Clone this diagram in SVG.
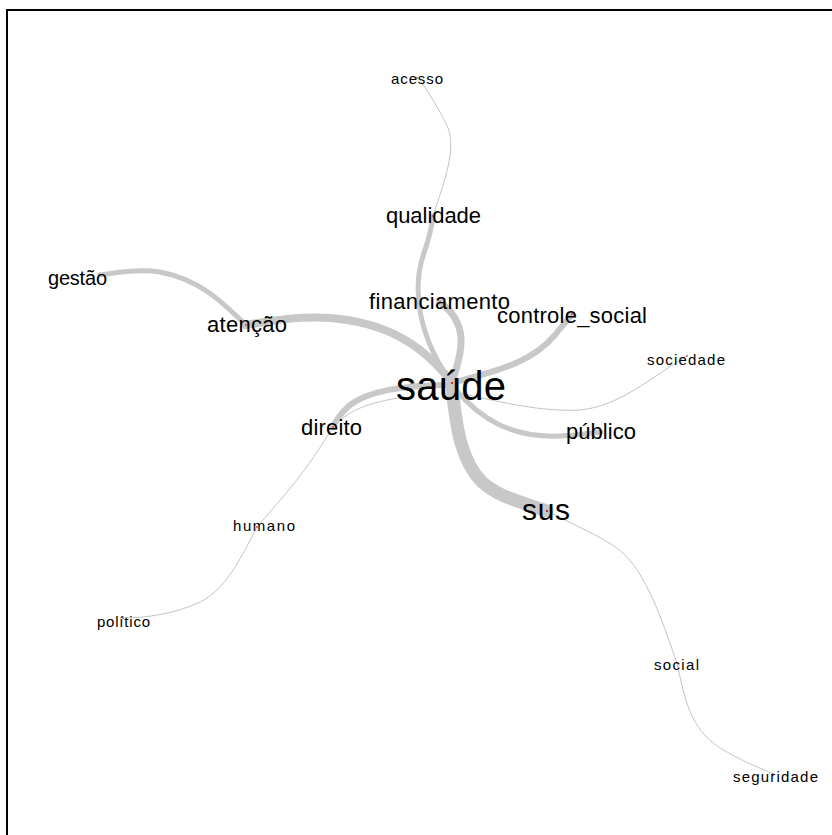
<svg xmlns="http://www.w3.org/2000/svg" width="832" height="835" viewBox="0 0 832 835">
<style>
.e{fill:none;stroke:#c8c8c8;stroke-linecap:round}
.t{stroke-width:1;stroke:#c4c4c4}
.lb{font-family:"Liberation Sans",Arial,sans-serif;fill:#000}
.sm{font-size:15px}
.md{font-size:22px}
.dot{fill:#d00000}
</style>
<rect x="0" y="0" width="832" height="835" fill="#fff"/>
<rect x="7" y="10" width="840" height="840" fill="none" stroke="#000" stroke-width="2"/>
<g id="edges">
<path class="e" stroke-width="13" d="M452,385 C456,430 462,462 482,482 C500,498 522,502 547,511"/>
<path class="e" stroke-width="8" d="M452,383 C420,340 380,322 330,318 C300,316 275,320 246,325"/>
<path class="e" stroke-width="5" d="M246,325 C220,300 200,280 160,272 C140,269 120,272 100,275"/>
<path class="e" stroke-width="7" d="M452,383 C462,350 470,325 440,302"/>
<path class="e" stroke-width="5" d="M452,383 C420,340 410,290 425,250 C430,235 432,225 433,216"/>
<path class="e t" d="M433,216 C445,180 456,150 448,128 C440,110 430,95 420,80"/>
<path class="e" stroke-width="6" d="M452,383 C490,372 530,365 555,335 C562,326 568,320 572,314"/>
<path class="e t" d="M456,392 C500,402 540,412 580,410 C620,406 650,378 687,356"/>
<path class="e" stroke-width="5" d="M456,390 C480,418 510,438 560,436 C580,435 590,433 601,432"/>
<path class="e" stroke-width="6" d="M450,385 C410,385 370,390 350,405 C340,414 336,420 333,427"/>
<path class="e t" d="M405,397 C370,402 345,410 330,432 C300,480 280,500 257,527"/>
<path class="e t" d="M257,527 C240,560 225,590 200,602 C175,614 145,618 123,618"/>
<path class="e t" d="M547,511 C580,528 610,540 625,555 C650,580 665,630 677,663"/>
<path class="e t" d="M677,663 C685,700 690,728 720,748 C740,760 755,766 773,774"/>
</g>
<g id="n-acesso"><circle class="dot" cx="417" cy="78" r="0.8"/><text class="lb sm" x="391" y="84" textLength="52" lengthAdjust="spacing">acesso</text></g>
<g id="n-qualidade"><circle class="dot" cx="433" cy="216" r="0.8"/><text class="lb md" x="386" y="223" textLength="95" lengthAdjust="spacing">qualidade</text></g>
<g id="n-gestao"><circle class="dot" cx="77" cy="280" r="0.8"/><text class="lb" style="font-size:20px" x="48" y="285" textLength="59" lengthAdjust="spacing">gestão</text></g>
<g id="n-atencao"><circle class="dot" cx="246" cy="325" r="0.8"/><text class="lb md" x="207" y="332" textLength="80" lengthAdjust="spacing">atenção</text></g>
<g id="n-financiamento"><circle class="dot" cx="440" cy="302" r="0.8"/><text class="lb md" x="369" y="309" textLength="141" lengthAdjust="spacing">financiamento</text></g>
<g id="n-controle_social"><circle class="dot" cx="572" cy="314" r="0.8"/><text class="lb md" x="497" y="323" textLength="150" lengthAdjust="spacing">controle_social</text></g>
<g id="n-sociedade"><circle class="dot" cx="687" cy="356" r="0.8"/><text class="lb sm" x="647" y="365" textLength="78" lengthAdjust="spacing">sociedade</text></g>
<g id="n-saude"><circle class="dot" cx="452" cy="383" r="1"/><text class="lb" style="font-size:40px" x="396" y="400" textLength="110" lengthAdjust="spacing">saúde</text></g>
<g id="n-direito"><circle class="dot" cx="333" cy="427" r="0.8"/><text class="lb md" x="301" y="435" textLength="61" lengthAdjust="spacing">direito</text></g>
<g id="n-publico"><circle class="dot" cx="601" cy="432" r="0.8"/><text class="lb md" x="566" y="439" textLength="70" lengthAdjust="spacing">público</text></g>
<g id="n-sus"><circle class="dot" cx="547" cy="511" r="1"/><text class="lb" style="font-size:30px" x="522" y="520" textLength="48" lengthAdjust="spacing">sus</text></g>
<g id="n-humano"><circle class="dot" cx="257" cy="527" r="0.8"/><text class="lb sm" x="233" y="531" textLength="62" lengthAdjust="spacing">humano</text></g>
<g id="n-politico"><circle class="dot" cx="123" cy="618" r="0.8"/><text class="lb sm" x="97" y="627" textLength="53" lengthAdjust="spacing">político</text></g>
<g id="n-social"><circle class="dot" cx="677" cy="663" r="0.8"/><text class="lb sm" x="654" y="670" textLength="45" lengthAdjust="spacing">social</text></g>
<g id="n-seguridade"><circle class="dot" cx="773" cy="774" r="0.8"/><text class="lb sm" x="733" y="782" textLength="85" lengthAdjust="spacing">seguridade</text></g>
</svg>
